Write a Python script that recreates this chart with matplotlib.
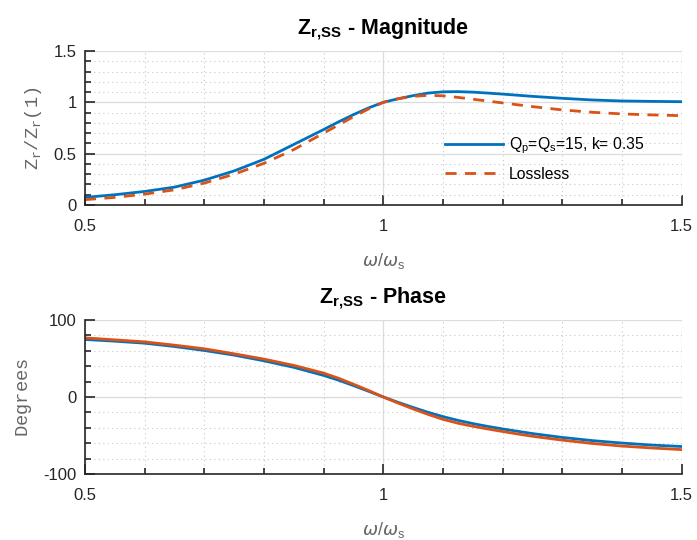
import numpy as np
import matplotlib
matplotlib.use("Agg")
import matplotlib.pyplot as plt
from matplotlib.ticker import MultipleLocator

# Normalised frequency w/ws (denser around resonance)
freq = [0.50, 0.55, 0.60, 0.65, 0.70, 0.75, 0.80, 0.85, 0.90,
        0.925, 0.95, 0.975, 1.00, 1.025, 1.05, 1.075, 1.10, 1.125, 1.15,
        1.175, 1.20, 1.225, 1.25, 1.30, 1.35, 1.40, 1.45, 1.50]

# |Z_r| / |Z_r(1)|
mag_lossy = [0.074, 0.10, 0.132, 0.174, 0.242, 0.332, 0.445, 0.59, 0.735,
             0.81, 0.88, 0.945, 1.00, 1.035, 1.065, 1.09, 1.102, 1.104, 1.099,
             1.09, 1.08, 1.069, 1.058, 1.039, 1.023, 1.013, 1.009, 1.006]
mag_lossless = [0.052, 0.074, 0.106, 0.148, 0.213, 0.30, 0.406, 0.54, 0.70,
                0.78, 0.86, 0.935, 1.00, 1.035, 1.058, 1.068, 1.063, 1.048, 1.03,
                1.012, 0.994, 0.976, 0.958, 0.926, 0.903, 0.887, 0.877, 0.87]

# Phase in degrees
ph_lossy = [74.7, 72.5, 69.9, 65.6, 60.4, 54.4, 47.0, 38.5, 28.0,
            21.8, 14.8, 7.5, 0.0, -7.0, -13.6, -19.9, -25.5, -30.3, -34.5,
            -38.2, -41.5, -44.5, -47.5, -52.5, -56.6, -59.8, -62.4, -64.3]
ph_lossless = [76.8, 74.2, 71.6, 67.3, 62.6, 56.1, 49.2, 41.0, 31.0,
               24.3, 16.6, 8.5, 0.0, -8.0, -15.5, -22.6, -29.0, -34.0, -38.0,
               -41.5, -44.8, -48.0, -51.0, -56.0, -60.3, -63.7, -66.2, -68.3]

lossy_label = r"Q$_\mathregular{p}$=Q$_\mathregular{s}$=15, k= 0.35"
lossless_label = "Lossless"

BLUE = "#0072BD"
ORANGE = "#D95319"
AXC = "#262626"
LABC = "#666666"

plt.rcParams["font.family"] = ["Liberation Sans", "DejaVu Sans"]
plt.rcParams["mathtext.fontset"] = "custom"
plt.rcParams["mathtext.rm"] = "Liberation Sans"
plt.rcParams["mathtext.bf"] = "Liberation Sans:bold"
plt.rcParams["mathtext.tt"] = "Liberation Mono"
plt.rcParams["axes.unicode_minus"] = False

fig = plt.figure(figsize=(6.97, 5.40), dpi=100)
ax1 = fig.add_axes([0.122, 0.6204, 0.856, 0.2852])
ax2 = fig.add_axes([0.122, 0.1222, 0.856, 0.2852])


def style(ax, ymin, ymax, ymajor, yminor):
    ax.set_xlim(0.5, 1.5)
    ax.set_ylim(ymin, ymax)
    ax.xaxis.set_major_locator(MultipleLocator(0.5))
    ax.xaxis.set_minor_locator(MultipleLocator(0.1))
    ax.yaxis.set_major_locator(MultipleLocator(ymajor))
    ax.yaxis.set_minor_locator(MultipleLocator(yminor))
    ax.grid(True, which="major", color="#dcdcdc", lw=0.9, ls="-")
    ax.grid(True, which="minor", color="#c8c8c8", lw=0.8, ls=(0, (1, 3)))
    ax.set_axisbelow(True)
    for s in ("top", "right"):
        ax.spines[s].set_visible(False)
    for s in ("left", "bottom"):
        ax.spines[s].set_color(AXC)
        ax.spines[s].set_linewidth(1.2)
    ax.tick_params(which="both", direction="in", color=AXC, width=1.2,
                   labelsize=12, labelcolor=AXC)
    ax.tick_params(axis="x", which="both", pad=10)
    ax.tick_params(axis="y", which="both", pad=6)
    ax.tick_params(which="major", length=7)
    ax.tick_params(which="minor", length=4)


title_sub = r"Z$_\mathbf{r{,}SS}$"

style(ax1, 0, 1.5, 0.5, 0.1)
ax1.plot(freq, mag_lossy, color=BLUE, lw=2, label=lossy_label)
ax1.plot(freq, mag_lossless, color=ORANGE, lw=2, ls=(0, (4, 3)), label=lossless_label)
ax1.set_xticks([0.5, 1.0, 1.5])
ax1.set_xticklabels(["0.5", "1", "1.5"])
ax1.set_yticks([0, 0.5, 1, 1.5])
ax1.set_yticklabels(["0", "0.5", "1", "1.5"])
ax1.set_title(title_sub + " - Magnitude", fontsize=15.5,
              fontweight="bold", pad=12)
ax1.set_ylabel(r"$\mathtt{Z_r/Z_r(1)}$", fontsize=13.5, color=LABC, labelpad=7)
ax1.set_xlabel(r"$\omega/\omega_\mathregular{s}$", fontsize=13, color=LABC,
               labelpad=12)
ax1.legend(loc="center left", bbox_to_anchor=(0.603, 0.30), frameon=False,
           fontsize=11.3, handlelength=3.7, handletextpad=0.4,
           labelspacing=0.65, borderpad=0, borderaxespad=0)

style(ax2, -100, 100, 100, 20)
ax2.plot(freq, ph_lossy, color=BLUE, lw=2)
ax2.plot(freq, ph_lossless, color=ORANGE, lw=2)
ax2.set_xticks([0.5, 1.0, 1.5])
ax2.set_xticklabels(["0.5", "1", "1.5"])
ax2.set_title(title_sub + " - Phase", fontsize=15.5,
              fontweight="bold", pad=12)
ax2.set_ylabel(r"$\mathtt{Degrees}$", fontsize=13.5, color=LABC, labelpad=7)
ax2.set_xlabel(r"$\omega/\omega_\mathregular{s}$", fontsize=13, color=LABC,
               labelpad=12)

fig.savefig("out.png", dpi=100)
